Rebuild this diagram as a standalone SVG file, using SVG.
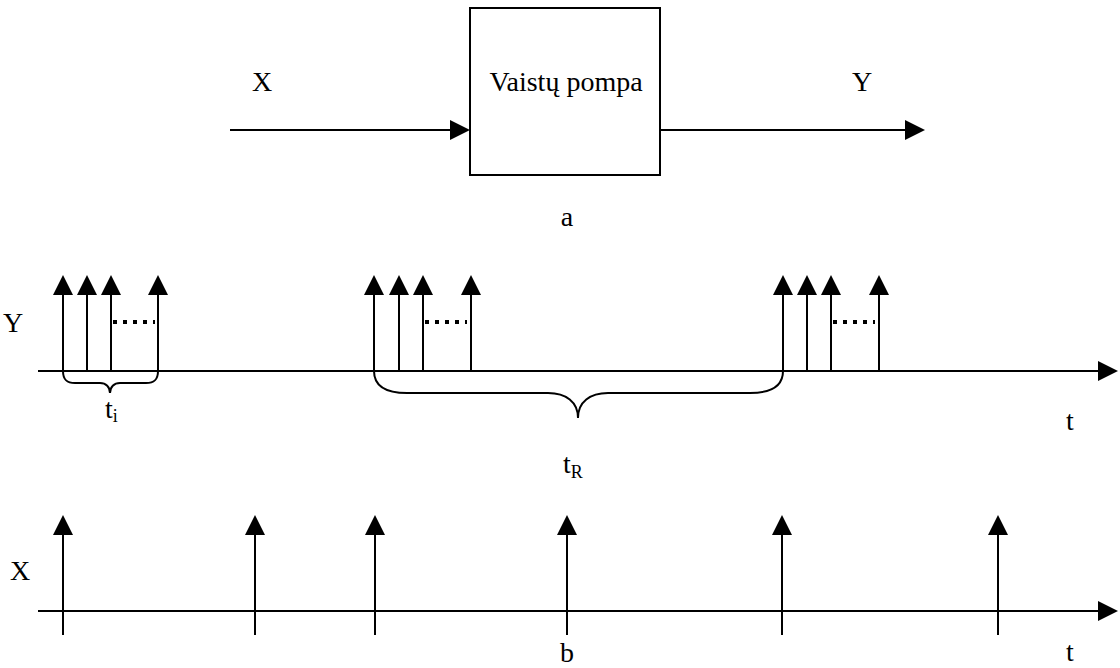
<svg xmlns="http://www.w3.org/2000/svg" width="1120" height="668" viewBox="0 0 1120 668">
  <style>
    .ln { stroke: #000; stroke-width: 2; fill: none; }
    .dots { stroke: #000; stroke-width: 4; stroke-dasharray: 4 6; fill: none; }
    .head { fill: #000; }
    .lbl { font-family: "Liberation Serif", "Times New Roman", serif; font-size: 28px; fill: #000; }
    .sub { font-family: "Liberation Serif", "Times New Roman", serif; font-size: 18px; fill: #000; }
  </style>
  <defs>
    <!-- upward impulse arrowhead, tip at origin -->
    <polygon id="up" class="head" points="0,0 -10,20 10,20"/>
    <!-- rightward arrowhead, tip at origin -->
    <polygon id="right" class="head" points="0,0 -20,-10 -20,10"/>
  </defs>

  <!-- block diagram -->
  <g id="pump">
    <rect class="ln" x="470" y="8" width="190" height="167"/>
    <text class="lbl" x="566" y="91" text-anchor="middle">Vaistų pompa</text>
  </g>
  <g id="connectors">
    <line class="ln" x1="230" y1="130" x2="452" y2="130"/>
    <use href="#right" x="470" y="130"/>
    <line class="ln" x1="660" y1="130" x2="907" y2="130"/>
    <use href="#right" x="925" y="130"/>
  </g>
  <g id="labels-a">
    <text class="lbl" x="262" y="91" text-anchor="middle">X</text>
    <text class="lbl" x="862" y="91" text-anchor="middle">Y</text>
    <text class="lbl" x="567" y="226" text-anchor="middle">a</text>
  </g>

  <!-- output pulse train Y(t) -->
  <g id="y-signal">
    <line class="ln" x1="38" y1="371" x2="1100" y2="371"/>
    <use href="#right" x="1118" y="371"/>
    <g class="ln">
      <line x1="63" y1="371" x2="63" y2="293"/>
      <line x1="87" y1="371" x2="87" y2="293"/>
      <line x1="111" y1="371" x2="111" y2="293"/>
      <line x1="158" y1="371" x2="158" y2="293"/>
      <line x1="374" y1="371" x2="374" y2="293"/>
      <line x1="399" y1="371" x2="399" y2="293"/>
      <line x1="423" y1="371" x2="423" y2="293"/>
      <line x1="471" y1="371" x2="471" y2="293"/>
      <line x1="783" y1="371" x2="783" y2="293"/>
      <line x1="807" y1="371" x2="807" y2="293"/>
      <line x1="831" y1="371" x2="831" y2="293"/>
      <line x1="879" y1="371" x2="879" y2="293"/>
    </g>
    <use href="#up" x="63" y="275"/>
    <use href="#up" x="87" y="275"/>
    <use href="#up" x="111" y="275"/>
    <use href="#up" x="158" y="275"/>
    <use href="#up" x="374" y="275"/>
    <use href="#up" x="399" y="275"/>
    <use href="#up" x="423" y="275"/>
    <use href="#up" x="471" y="275"/>
    <use href="#up" x="783" y="275"/>
    <use href="#up" x="807" y="275"/>
    <use href="#up" x="831" y="275"/>
    <use href="#up" x="879" y="275"/>
    <line class="dots" x1="113" y1="322" x2="155" y2="322"/>
    <line class="dots" x1="425" y1="322" x2="467" y2="322"/>
    <line class="dots" x1="833" y1="322" x2="875" y2="322"/>
    <!-- braces -->
    <path class="ln" d="M63,371 C63,380 67,383 75,383 L100,383 C106,383 110,387 110,393 C110,387 114,383 120,383 L146,383 C154,383 158,380 158,371"/>
    <path class="ln" d="M374,371 C374,386 385,393 407,393 L548,393 C566,393 578,402 578,418 C578,402 590,393 608,393 L750,393 C772,393 783,386 783,371"/>
    <text class="lbl" x="13" y="332" text-anchor="middle">Y</text>
    <text class="lbl" x="1070" y="430" text-anchor="middle">t</text>
    <text class="lbl" x="105" y="418">t<tspan class="sub" dy="4">i</tspan></text>
    <text class="lbl" x="563" y="473">t<tspan class="sub" dy="5">R</tspan></text>
  </g>

  <!-- input pulse train X(t) -->
  <g id="x-signal">
    <line class="ln" x1="38" y1="611" x2="1100" y2="611"/>
    <use href="#right" x="1118" y="611"/>
    <g class="ln">
      <line x1="63" y1="635" x2="63" y2="533"/>
      <line x1="255" y1="635" x2="255" y2="533"/>
      <line x1="375" y1="635" x2="375" y2="533"/>
      <line x1="567" y1="635" x2="567" y2="533"/>
      <line x1="782" y1="635" x2="782" y2="533"/>
      <line x1="998" y1="635" x2="998" y2="533"/>
    </g>
    <use href="#up" x="63" y="515"/>
    <use href="#up" x="255" y="515"/>
    <use href="#up" x="375" y="515"/>
    <use href="#up" x="567" y="515"/>
    <use href="#up" x="782" y="515"/>
    <use href="#up" x="998" y="515"/>
    <text class="lbl" x="20" y="580" text-anchor="middle">X</text>
    <text class="lbl" x="1070" y="661" text-anchor="middle">t</text>
    <text class="lbl" x="567" y="662" text-anchor="middle">b</text>
  </g>
</svg>
